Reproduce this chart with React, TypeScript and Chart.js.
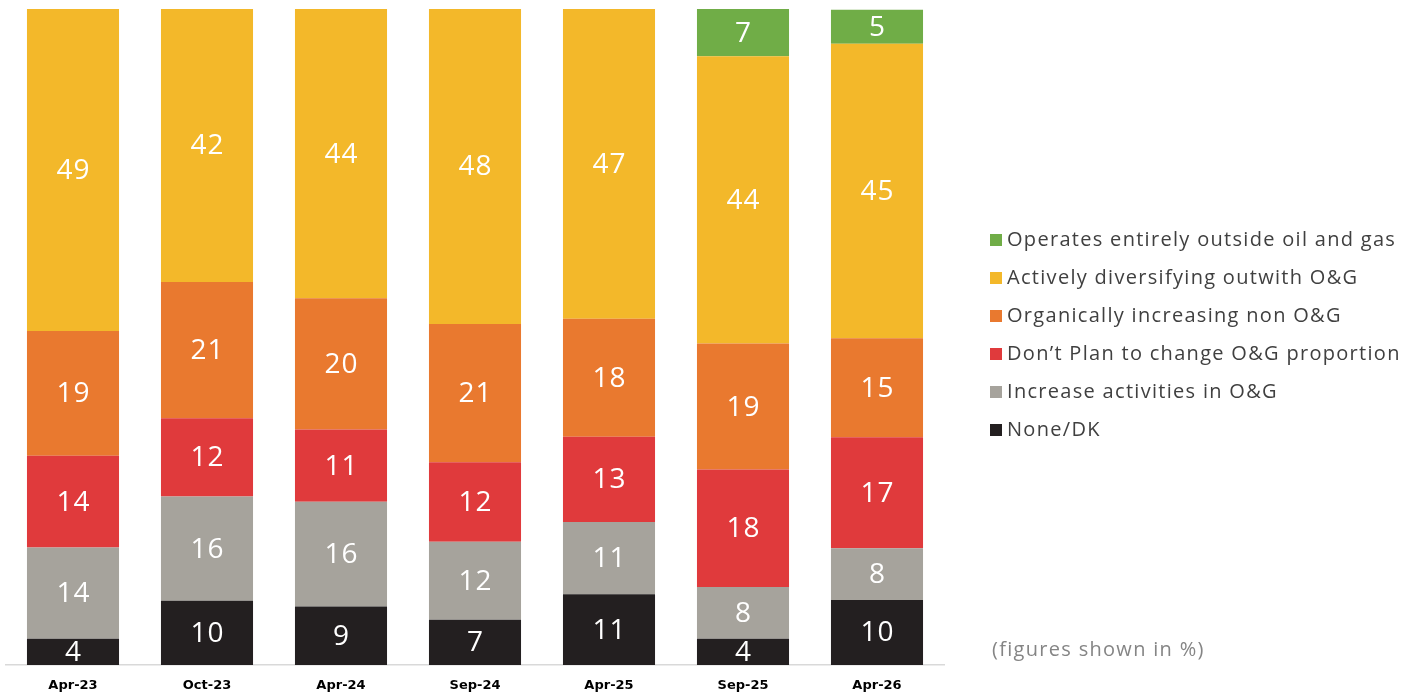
import React, { useEffect, useRef } from "react";
import { Chart, registerables } from "chart.js";

Chart.register(...registerables);

const categories = ["Apr-23", "Oct-23", "Apr-24", "Sep-24", "Apr-25", "Sep-25", "Apr-26"];
const seriesNames = [
  "None/DK",
  "Increase activities in O&G",
  "Don\u2019t Plan to change O&G proportion",
  "Organically increasing non O&G",
  "Actively diversifying outwith O&G",
  "Operates entirely outside oil and gas",
];
const noneDK = [4.0, 9.8, 8.9, 6.9, 10.8, 4.0, 9.9];
const increaseOG = [13.9, 15.9, 16.0, 11.9, 11.0, 7.9, 7.9];
const dontPlan = [14.0, 11.9, 11.0, 12.1, 13.0, 17.9, 16.9];
const organically = [19.0, 20.8, 20.0, 21.1, 18.0, 19.2, 15.1];
const actively = [49.1, 41.6, 44.1, 48.0, 47.2, 43.8, 44.9];
const outside = [0, 0, 0, 0, 0, 7.2, 5.2];
const seriesColors = ["#231F20", "#A6A39C", "#E03A3C", "#E9792F", "#F3B82A", "#70AD47"];
const footnote = "(figures shown in %)";

const FONT = "'Open Sans', 'DejaVu Sans', sans-serif";

const labelsPlugin = {
  id: "segLabels",
  afterDatasetsDraw(chart: any) {
    const ctx = chart.ctx;
    ctx.save();
    ctx.fillStyle = "#ffffff";
    ctx.font = `28px ${FONT}`;
    (ctx as any).letterSpacing = "1px";
    ctx.textAlign = "center";
    ctx.textBaseline = "middle";
    chart.data.datasets.forEach((ds: any, di: number) => {
      const meta = chart.getDatasetMeta(di);
      meta.data.forEach((bar: any, i: number) => {
        const v = ds.data[i];
        if (!v) return;
        const cy = (bar.y + bar.base) / 2;
        ctx.fillText(String(Math.round(v)), bar.x + 0.5, cy + 1);
      });
    });
    ctx.restore();
  },
};

const legendPlugin = {
  id: "customLegend",
  afterDraw(chart: any) {
    const ctx = chart.ctx;
    ctx.save();
    ctx.font = `20px ${FONT}`;
    (ctx as any).letterSpacing = "1.3px";
    ctx.textBaseline = "middle";
    ctx.textAlign = "left";
    const n = chart.data.datasets.length;
    for (let k = 0; k < n; k++) {
      const di = n - 1 - k;
      const ds = chart.data.datasets[di];
      const y = 240 + k * 38;
      ctx.fillStyle = ds.backgroundColor;
      ctx.fillRect(990, y - 6, 12, 12);
      ctx.fillStyle = "#404040";
      ctx.fillText(ds.label, 1007, y);
    }
    ctx.fillStyle = "#858585";
    ctx.fillText(footnote, 992, 650);
    ctx.restore();
  },
};

export default function App() {
  const ref = useRef<HTMLCanvasElement | null>(null);
  useEffect(() => {
    if (!ref.current) return;
    const values = [noneDK, increaseOG, dontPlan, organically, actively, outside];
    const chart = new Chart(ref.current, {
      type: "bar",
      data: {
        labels: categories,
        datasets: values.map((d, i) => ({
          label: seriesNames[i],
          data: d,
          backgroundColor: seriesColors[i],
          borderWidth: 0,
          barPercentage: 0.687,
          categoryPercentage: 1,
        })),
      },
      options: {
        animation: false,
        responsive: false,
        maintainAspectRatio: false,
        layout: { padding: { top: 9, bottom: 0, left: 6, right: 478 } },
        plugins: { legend: { display: false }, tooltip: { enabled: false } },
        scales: {
          x: {
            stacked: true,
            grid: { display: false, drawTicks: false },
            border: { display: true, color: "#D9D9D9", width: 1.5 },
            afterFit: (s: any) => {
              s.height = 31;
            },
            ticks: {
              padding: 13,
              color: "#000000",
              font: { family: "'DejaVu Sans', sans-serif", size: 13, weight: "bold" },
            },
          },
          y: {
            stacked: true,
            display: false,
            min: 0,
            max: 100,
          },
        },
      },
      plugins: [labelsPlugin, legendPlugin],
    });
    return () => chart.destroy();
  }, []);
  return (
    <div style={{ position: "fixed", left: 0, top: 0, width: 1422, height: 696, background: "#fff" }}>
      <canvas ref={ref} width={1422} height={696} style={{ width: 1422, height: 696 }} />
    </div>
  );
}
